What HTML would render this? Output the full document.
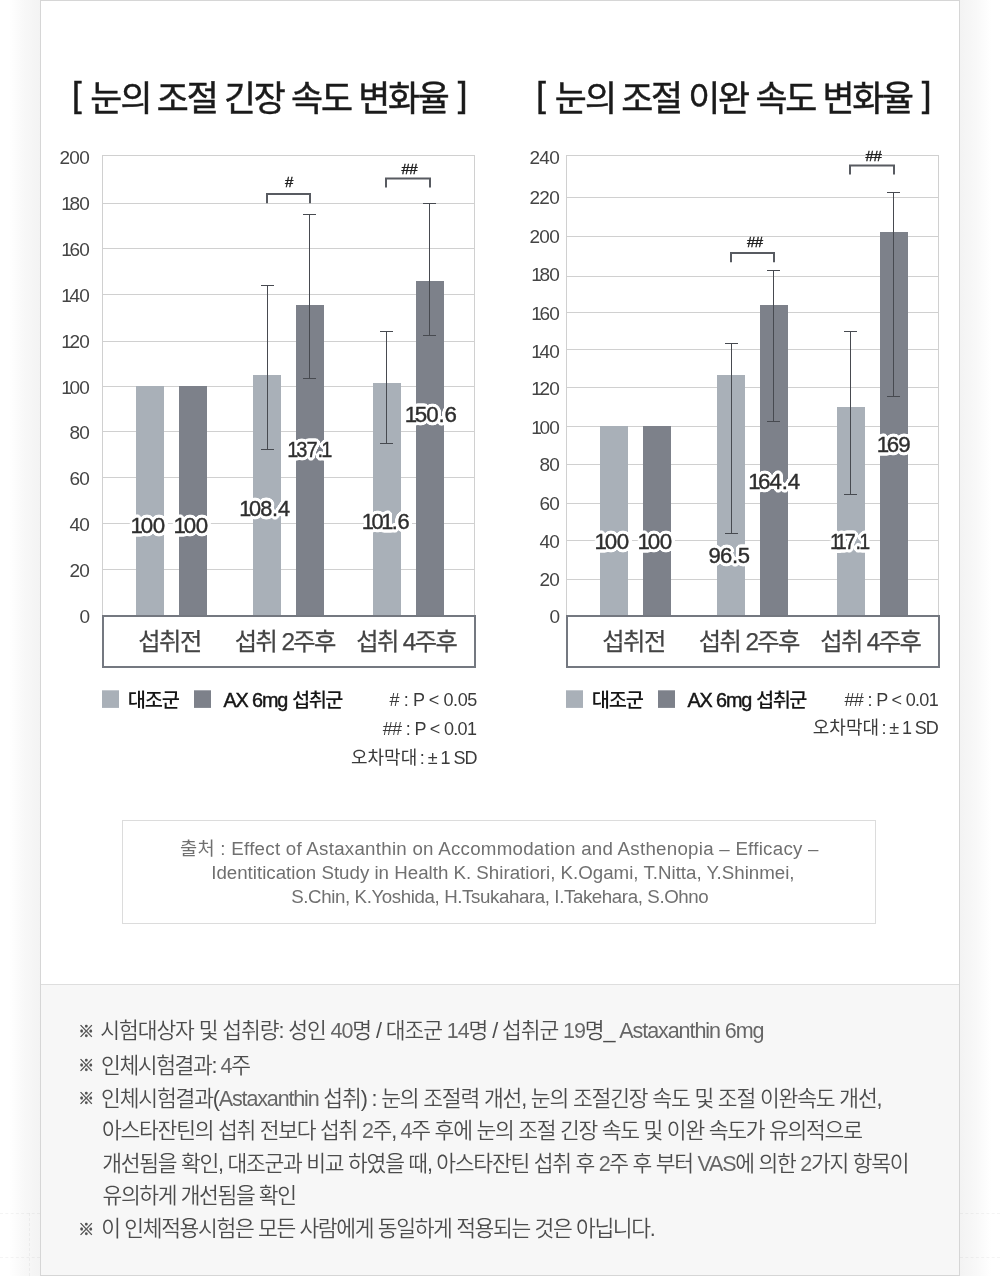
<!DOCTYPE html>
<html lang="ko">
<head>
<meta charset="utf-8">
<title>눈의 조절 속도 변화율</title>
<style>
html,body{margin:0;padding:0;}
body{width:1000px;height:1276px;position:relative;overflow:hidden;background:#fff;font-family:"Liberation Sans", "Noto Sans CJK KR", sans-serif;}
.shl{position:absolute;left:0;top:0;width:40px;height:1276px;background:linear-gradient(to right,#fff 0,#fff 9px,#f8f8f8 24px,#f3f3f3 40px);}
.shr{position:absolute;left:960px;top:0;width:40px;height:1276px;background:linear-gradient(to left,#fff 0,#fff 9px,#f8f8f8 24px,#f3f3f3 40px);}
.dot{position:absolute;border:0 dashed rgba(0,0,0,0.045);}
.card{position:absolute;left:40px;top:0;width:918px;height:1274px;border:1px solid #d6d6d6;background:#fff;}
.foot-bg{position:absolute;left:41px;top:984px;width:918px;height:291px;background:#f7f7f7;border-top:1px solid #dedede;box-sizing:border-box;}
.srcbox{position:absolute;left:122px;top:820px;width:752px;height:102px;border:1px solid #dcdcdc;background:#fff;}
svg{position:absolute;left:0;top:0;}
svg text{font-family:"Liberation Sans", "Noto Sans CJK KR", sans-serif;white-space:pre;}
.tick{font-size:19.0px;font-weight:400;fill:#444;}
.hash{font-size:15px;font-weight:400;fill:#222;stroke:#222;stroke-width:0.4px;}
.cat{font-size:24.3px;font-weight:400;fill:#444;stroke:#444;stroke-width:0.25px;}
.val{font-size:22.3px;font-weight:400;fill:#2e2e2e;stroke:#2e2e2e;stroke-width:0.4px;}
.leg{font-size:19.8px;font-weight:500;fill:#151515;}
.leg .asc{stroke:#151515;stroke-width:0.45px;}
.note{font-size:18px;font-weight:400;fill:#3a3a3a;}
.title{font-size:34.8px;font-weight:400;fill:#1a1a1a;stroke:#1a1a1a;stroke-width:0.5px;}
.src{font-size:18px;font-weight:400;fill:#707070;}
.foot{font-size:21.5px;font-weight:350;fill:#4c4c4c;}
.foot .lat{fill:#666;}
.mark{font-size:16px;font-weight:500;fill:#505050;stroke:#505050;stroke-width:0.4px;}
</style>
</head>
<body>
<div class="shl"></div>
<div class="shr"></div>
<div class="dot" style="left:0;top:1213px;width:40px;border-top-width:1px"></div>
<div class="dot" style="left:0;top:1257px;width:40px;border-top-width:1px"></div>
<div class="dot" style="left:29px;top:1213px;height:63px;border-left-width:1px"></div>
<div class="dot" style="left:960px;top:1213px;width:40px;border-top-width:1px"></div>
<div class="dot" style="left:960px;top:1257px;width:40px;border-top-width:1px"></div>
<div class="card"></div>
<div class="foot-bg"></div>
<div class="srcbox"></div>
<svg width="1000" height="1276" viewBox="0 0 1000 1276">
<defs>
<filter id="ol" filterUnits="userSpaceOnUse" x="0" y="380" width="1000" height="220" color-interpolation-filters="sRGB">
<feConvolveMatrix in="SourceAlpha" order="7" divisor="1" preserveAlpha="false" edgeMode="none" kernelMatrix="0 0 1 1 1 0 0  0 1 1 1 1 1 0  1 1 1 1 1 1 1  1 1 1 1 1 1 1  1 1 1 1 1 1 1  0 1 1 1 1 1 0  0 0 1 1 1 0 0" result="d"/>
<feGaussianBlur in="d" stdDeviation="0.5" result="t"/>
<feFlood flood-color="#fff" result="f"/>
<feComposite in="f" in2="t" operator="in" result="w"/>
<feMerge><feMergeNode in="w"/><feMergeNode in="SourceGraphic"/></feMerge>
</filter>
</defs>
<g>
<rect x="102" y="203" width="373" height="1" fill="#d0d0d0"/>
<rect x="102" y="248" width="373" height="1" fill="#d0d0d0"/>
<rect x="102" y="294" width="373" height="1" fill="#d0d0d0"/>
<rect x="102" y="341" width="373" height="1" fill="#d0d0d0"/>
<rect x="102" y="386" width="373" height="1" fill="#d0d0d0"/>
<rect x="102" y="431" width="373" height="1" fill="#d0d0d0"/>
<rect x="102" y="477" width="373" height="1" fill="#d0d0d0"/>
<rect x="102" y="523" width="373" height="1" fill="#d0d0d0"/>
<rect x="102" y="569" width="373" height="1" fill="#d0d0d0"/>
<rect x="102.5" y="155.5" width="372" height="460" fill="none" stroke="#d0d0d0" stroke-width="1"/>
<text class="tick" x="59.45" y="164.4" style="letter-spacing:-0.65px">200</text>
<text class="tick" x="62.95" y="210.4" dx="-1.71 -1.71 0.00" style="letter-spacing:-0.65px">180</text>
<text class="tick" x="62.95" y="255.9" dx="-1.71 -1.71 0.00" style="letter-spacing:-0.65px">160</text>
<text class="tick" x="62.95" y="301.9" dx="-1.71 -1.71 0.00" style="letter-spacing:-0.65px">140</text>
<text class="tick" x="62.95" y="348.0" dx="-1.71 -1.71 0.00" style="letter-spacing:-0.65px">120</text>
<text class="tick" x="62.95" y="393.5" dx="-1.71 -1.71 0.00" style="letter-spacing:-0.65px">100</text>
<text class="tick" x="69.45" y="439.2" style="letter-spacing:-0.65px">80</text>
<text class="tick" x="69.45" y="485.2" style="letter-spacing:-0.65px">60</text>
<text class="tick" x="69.45" y="531.1" style="letter-spacing:-0.65px">40</text>
<text class="tick" x="69.45" y="577.0" style="letter-spacing:-0.65px">20</text>
<text class="tick" x="79.45" y="623.0" style="letter-spacing:-0.65px">0</text>
<rect x="136" y="386" width="28" height="230" fill="#a9b0b8"/>
<rect x="179" y="386" width="28" height="230" fill="#7d818a"/>
<rect x="253" y="375" width="28" height="241" fill="#a9b0b8"/>
<rect x="296" y="305" width="28" height="311" fill="#7d818a"/>
<rect x="373" y="383" width="28" height="233" fill="#a9b0b8"/>
<rect x="416" y="281" width="28" height="335" fill="#7d818a"/>
<path d="M267.5 285V450M261 285.5h13M261 449.5h13" stroke="#474a50" stroke-width="1" fill="none"/>
<path d="M309.5 214V379M303 214.5h13M303 378.5h13" stroke="#474a50" stroke-width="1" fill="none"/>
<path d="M386.5 331V444M380 331.5h13M380 443.5h13" stroke="#474a50" stroke-width="1" fill="none"/>
<path d="M429.5 203V336M423 203.5h13M423 335.5h13" stroke="#474a50" stroke-width="1" fill="none"/>
<path d="M267 203.2V194H310V203.2" stroke="#585b61" stroke-width="2" fill="none"/>
<text class="hash" x="285.0" y="187.43" style="letter-spacing:0.0px">#</text>
<path d="M386 187.6V178.4H430V187.6" stroke="#585b61" stroke-width="2" fill="none"/>
<text class="hash" x="401.4" y="173.53" style="letter-spacing:-0.45px">##</text>
<rect x="103" y="616" width="372" height="51" fill="#fff" stroke="#747880" stroke-width="2"/>
<text class="cat" x="138.15" y="650.12" style="letter-spacing:-1.45px">섭취전</text>
<text class="cat" x="234.75" y="650.12" style="letter-spacing:-1.59px">섭취 2주후</text>
<text class="cat" x="356.15" y="650.12" style="letter-spacing:-1.59px">섭취 4주후</text>
<g filter="url(#ol)">
<text class="val" x="132.05" y="533.23" dx="-1.56 -1.56 0.00" style="letter-spacing:-0.5px">100</text>
<text class="val" x="175.05" y="533.23" dx="-1.56 -1.56 0.00" style="letter-spacing:-0.5px">100</text>
<text class="val" transform="translate(240.85 516.23) scale(0.9737 1)" dx="-1.56 -1.56 0.00 0.67 0.67" style="letter-spacing:-0.9px">108.4</text>
<text class="val" transform="translate(288.68 457.43) scale(0.8968 1)" dx="-1.56 -1.56 0.00 0.67 -0.89" style="letter-spacing:-0.9px">137.1</text>
<text class="val" transform="translate(363.26 529.42) scale(0.9826 1)" dx="-1.56 -1.56 -1.56 -0.89 0.67" style="letter-spacing:-0.9px">101.6</text>
<text class="val" x="406.42" y="421.83" dx="-1.56 -1.56 0.00 0.67 0.67" style="letter-spacing:-0.9px">150.6</text>
</g>
<rect x="102" y="690.3" width="17" height="17.6" fill="#a9b0b8"/>
<text class="leg" x="127.7" y="707.0" style="letter-spacing:-1.225px">대조군</text>
<rect x="194" y="690.3" width="17" height="17.6" fill="#7d818a"/>
<text class="leg" y="707.0"><tspan class="asc" x="223.4" y="707.0" style="letter-spacing:-1.1px">AX 6mg</tspan> <tspan x="292.1" y="707.0" style="letter-spacing:-1.625px">섭취군</tspan></text>
<text class="note" x="389.5" y="705.83" style="letter-spacing:-0.409px"># : P &lt; 0.05</text>
<text class="note" x="382.7" y="735.12" style="letter-spacing:-0.667px">## : P &lt; 0.01</text>
<text class="note" y="764.33"><tspan x="351.0" y="764.33" style="letter-spacing:-0.017px">오차막대</tspan> <tspan x="419.75" y="764.33" style="letter-spacing:-1.036px">: ± 1 SD</tspan></text>
<text class="title" y="110.5"><tspan class="asc" x="72.0" y="106.9" style="letter-spacing:0.0px">[</tspan> <tspan x="90.25" y="110.5" style="letter-spacing:-1.75px">눈의</tspan> <tspan x="156.85" y="110.5" style="letter-spacing:-2.195px">조절 긴장 속도 변화율</tspan> <tspan class="asc" x="457.75" y="106.9" style="letter-spacing:0.0px">]</tspan></text>
</g>
<g>
<rect x="566" y="197" width="373" height="1" fill="#d0d0d0"/>
<rect x="566" y="236" width="373" height="1" fill="#d0d0d0"/>
<rect x="566" y="276" width="373" height="1" fill="#d0d0d0"/>
<rect x="566" y="312" width="373" height="1" fill="#d0d0d0"/>
<rect x="566" y="349" width="373" height="1" fill="#d0d0d0"/>
<rect x="566" y="387" width="373" height="1" fill="#d0d0d0"/>
<rect x="566" y="426" width="373" height="1" fill="#d0d0d0"/>
<rect x="566" y="464" width="373" height="1" fill="#d0d0d0"/>
<rect x="566" y="503" width="373" height="1" fill="#d0d0d0"/>
<rect x="566" y="540" width="373" height="1" fill="#d0d0d0"/>
<rect x="566" y="579" width="373" height="1" fill="#d0d0d0"/>
<rect x="566.5" y="155.5" width="372" height="460" fill="none" stroke="#d0d0d0" stroke-width="1"/>
<text class="tick" x="529.45" y="164.4" style="letter-spacing:-0.65px">240</text>
<text class="tick" x="529.45" y="203.6" style="letter-spacing:-0.65px">220</text>
<text class="tick" x="529.45" y="242.6" style="letter-spacing:-0.65px">200</text>
<text class="tick" x="532.95" y="281.4" dx="-1.71 -1.71 0.00" style="letter-spacing:-0.65px">180</text>
<text class="tick" x="532.95" y="319.5" dx="-1.71 -1.71 0.00" style="letter-spacing:-0.65px">160</text>
<text class="tick" x="532.95" y="357.7" dx="-1.71 -1.71 0.00" style="letter-spacing:-0.65px">140</text>
<text class="tick" x="532.95" y="395.4" dx="-1.71 -1.71 0.00" style="letter-spacing:-0.65px">120</text>
<text class="tick" x="532.95" y="433.5" dx="-1.71 -1.71 0.00" style="letter-spacing:-0.65px">100</text>
<text class="tick" x="539.45" y="471.3" style="letter-spacing:-0.65px">80</text>
<text class="tick" x="539.45" y="509.7" style="letter-spacing:-0.65px">60</text>
<text class="tick" x="539.45" y="547.8" style="letter-spacing:-0.65px">40</text>
<text class="tick" x="539.45" y="585.6" style="letter-spacing:-0.65px">20</text>
<text class="tick" x="549.45" y="623.0" style="letter-spacing:-0.65px">0</text>
<rect x="600" y="426" width="28" height="190" fill="#a9b0b8"/>
<rect x="643" y="426" width="28" height="190" fill="#7d818a"/>
<rect x="717" y="375" width="28" height="241" fill="#a9b0b8"/>
<rect x="760" y="305" width="28" height="311" fill="#7d818a"/>
<rect x="837" y="407" width="28" height="209" fill="#a9b0b8"/>
<rect x="880" y="232" width="28" height="384" fill="#7d818a"/>
<path d="M731.5 343V534M725 343.5h13M725 533.5h13" stroke="#474a50" stroke-width="1" fill="none"/>
<path d="M773.5 270V422M767 270.5h13M767 421.5h13" stroke="#474a50" stroke-width="1" fill="none"/>
<path d="M850.5 331V495M844 331.5h13M844 494.5h13" stroke="#474a50" stroke-width="1" fill="none"/>
<path d="M893.5 192V397M887 192.5h13M887 396.5h13" stroke="#474a50" stroke-width="1" fill="none"/>
<path d="M731 262.2V253H774V262.2" stroke="#585b61" stroke-width="2" fill="none"/>
<text class="hash" x="747.0" y="246.72" style="letter-spacing:-0.5px">##</text>
<path d="M850 174.6V165.4H894V174.6" stroke="#585b61" stroke-width="2" fill="none"/>
<text class="hash" x="865.6" y="160.62" style="letter-spacing:-0.45px">##</text>
<rect x="567" y="616" width="372" height="51" fill="#fff" stroke="#747880" stroke-width="2"/>
<text class="cat" x="602.15" y="650.12" style="letter-spacing:-1.45px">섭취전</text>
<text class="cat" x="698.75" y="650.12" style="letter-spacing:-1.59px">섭취 2주후</text>
<text class="cat" x="820.15" y="650.12" style="letter-spacing:-1.59px">섭취 4주후</text>
<g filter="url(#ol)">
<text class="val" x="596.05" y="548.83" dx="-1.56 -1.56 0.00" style="letter-spacing:-0.5px">100</text>
<text class="val" x="639.05" y="548.83" dx="-1.56 -1.56 0.00" style="letter-spacing:-0.5px">100</text>
<text class="val" transform="translate(708.51 563.23) scale(0.9888 1)" dx="0.00 0.00 0.67 0.67" style="letter-spacing:-0.9px">96.5</text>
<text class="val" x="749.7" y="489.23" dx="-1.56 -1.56 0.00 0.67 0.67" style="letter-spacing:-0.9px">164.4</text>
<text class="val" transform="translate(831.28 549.42) scale(0.8842 1)" dx="-1.56 -3.12 -1.56 0.67 -0.89" style="letter-spacing:-0.9px">117.1</text>
<text class="val" x="878.35" y="452.23" dx="-1.56 -1.56 0.00" style="letter-spacing:-0.9px">169</text>
</g>
<rect x="566" y="690.3" width="17" height="17.6" fill="#a9b0b8"/>
<text class="leg" x="591.7" y="707.0" style="letter-spacing:-1.225px">대조군</text>
<rect x="658" y="690.3" width="17" height="17.6" fill="#7d818a"/>
<text class="leg" y="707.0"><tspan class="asc" x="687.4" y="707.0" style="letter-spacing:-1.1px">AX 6mg</tspan> <tspan x="756.1" y="707.0" style="letter-spacing:-1.625px">섭취군</tspan></text>
<text class="note" x="844.5" y="705.83" style="letter-spacing:-0.671px">## : P &lt; 0.01</text>
<text class="note" y="734.33"><tspan x="812.8" y="734.33" style="letter-spacing:-0.017px">오차막대</tspan> <tspan x="881.55" y="734.33" style="letter-spacing:-1.1px">: ± 1 SD</tspan></text>
<text class="title" y="110.5"><tspan class="asc" x="536.2" y="106.9" style="letter-spacing:0.0px">[</tspan> <tspan x="554.65" y="110.5" style="letter-spacing:-1.6px">눈의</tspan> <tspan x="621.25" y="110.5" style="letter-spacing:-2.209px">조절 이완 속도 변화율</tspan> <tspan class="asc" x="921.75" y="106.9" style="letter-spacing:0.0px">]</tspan></text>
</g>
<g>
<text class="src" transform="translate(179.96 854.62) scale(1.04 1)" style="letter-spacing:0.247px">출처 : Effect of Astaxanthin on Accommodation and Asthenopia – Efficacy –</text>
<text class="src" transform="translate(211.18 878.62) scale(1.04 1)" style="letter-spacing:-0.003px">Identitication Study in Health K. Shiratiori, K.Ogami, T.Nitta, Y.Shinmei,</text>
<text class="src" transform="translate(291.22 902.62) scale(1.04 1)" style="letter-spacing:-0.388px">S.Chin, K.Yoshida, H.Tsukahara, I.Takehara, S.Ohno</text>
</g>
<g>
<text class="foot" x="100.25" y="1038.03" style="letter-spacing:-1.071px">시험대상자 및 섭취량: 성인 <tspan class="lat">40</tspan>명 / 대조군 <tspan class="lat">14</tspan>명 / 섭취군 <tspan class="lat">19</tspan>명_ <tspan class="lat">Astaxanthin 6mg</tspan></text>
<text class="foot" x="101.0" y="1072.53" style="letter-spacing:-1.383px">인체시험결과: <tspan class="lat">4</tspan>주</text>
<text class="foot" x="101.0" y="1105.73" style="letter-spacing:-1.147px">인체시험결과(<tspan class="lat">Astaxanthin</tspan> 섭취) : 눈의 조절력 개선, 눈의 조절긴장 속도 및 조절 이완속도 개선,</text>
<text class="foot" x="102.0" y="1138.03" style="letter-spacing:-1.244px">아스타잔틴의 섭취 전보다 섭취 <tspan class="lat">2</tspan>주, <tspan class="lat">4</tspan>주 후에 눈의 조절 긴장 속도 및 이완 속도가 유의적으로</text>
<text class="foot" x="102.25" y="1170.53" style="letter-spacing:-1.258px">개선됨을 확인, 대조군과 비교 하였을 때, 아스타잔틴 섭취 후 <tspan class="lat">2</tspan>주 후 부터 <tspan class="lat">VAS</tspan>에 의한 <tspan class="lat">2</tspan>가지 항목이</text>
<text class="foot" x="102.5" y="1202.83" style="letter-spacing:-1.382px">유의하게 개선됨을 확인</text>
<text class="foot" x="101.25" y="1236.03" style="letter-spacing:-1.349px">이 인체적용시험은 모든 사람에게 동일하게 적용되는 것은 아닙니다.</text>
<text class="mark" x="78.25" y="1036.6" style="letter-spacing:0.0px">※</text>
<text class="mark" x="78.25" y="1071.1" style="letter-spacing:0.0px">※</text>
<text class="mark" x="78.25" y="1104.3" style="letter-spacing:0.0px">※</text>
<text class="mark" x="78.25" y="1234.6" style="letter-spacing:0.0px">※</text>
</g>
</svg>
</body>
</html>
